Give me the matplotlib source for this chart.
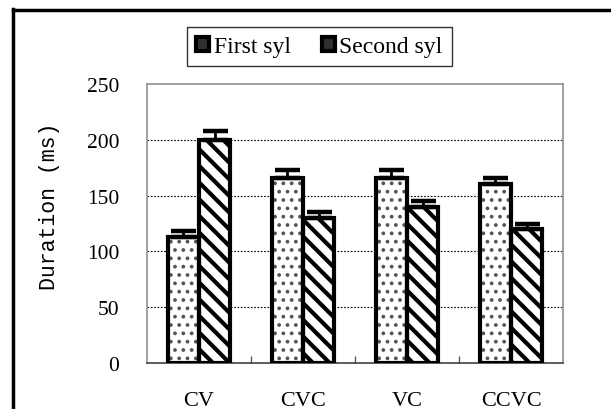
import matplotlib
matplotlib.use("Agg")
import matplotlib.pyplot as plt
from matplotlib.patches import Rectangle
from matplotlib.lines import Line2D
import numpy as np

categories = ["CV", "CVC", "VC", "CCVC"]
series_names = ["First syl", "Second syl"]
first_syl = [113, 166, 166, 160]
second_syl = [200, 130, 140, 120]
first_err = [5, 7, 7, 6]
second_err = [7.5, 5, 5, 5]
yticks = [0, 50, 100, 150, 200, 250]

fig = plt.figure(figsize=(6.11, 4.10), dpi=100)
ax = fig.add_axes([147/611, 1-364/410, (563-147)/611, (364-85)/410])

x = np.arange(len(categories))
w = 0.3
serif = "Liberation Serif"

def draw_series(xpos, vals, errs, hatch, hcolor):
    ax.bar(xpos, vals, w, color="white", hatch=hatch, edgecolor=hcolor, linewidth=0, zorder=2)
    ax.bar(xpos, vals, w, fill=False, edgecolor="black", linewidth=3.0, zorder=3)
    ax.errorbar(xpos, vals, yerr=[np.zeros(len(errs)), errs], fmt="none",
                ecolor="black", elinewidth=2.0, capsize=9, capthick=3.2, zorder=4)

plt.rcParams['hatch.linewidth'] = 1.5
draw_series(x - w/2, first_syl, first_err, "..", "#555555")
plt.rcParams['hatch.linewidth'] = 3.0
draw_series(x + w/2, second_syl, second_err, "\\\\", "black")

ax.set_ylim(0, 250)
ax.set_xlim(-0.5, len(categories) - 0.5)
ax.set_yticks(yticks)
ax.set_yticklabels([str(t) for t in yticks], fontfamily=serif, fontsize=15.5)
ax.set_xticks(x)
ax.set_xticklabels(categories, fontfamily=serif, fontsize=16)
ax.tick_params(axis="x", which="major", length=0, pad=20)
ax.tick_params(axis="y", which="major", length=0, pad=20)
ax.set_xticks(np.arange(0.5, len(categories) - 0.5, 1), minor=True)
ax.tick_params(axis="x", which="minor", direction="in", length=5, width=1, color="#555555")

for v in [50, 100, 150, 200]:
    ax.axhline(v, color="black", linewidth=0.8, linestyle=(0, (1.5, 1.5)), zorder=1)

for s in ax.spines.values():
    s.set_color("#909090")
    s.set_linewidth(1.2)
ax.spines["bottom"].set_color("#404040")

fig.text(50/611, 1-206/410, "Duration (ms)", rotation=90, ha="center", va="center",
         fontfamily="Liberation Mono", fontsize=15.5)

fig.add_artist(Line2D([13/611, 13/611], [0, 1-10/410], color="black", linewidth=2.5,
                      transform=fig.transFigure))
fig.add_artist(Line2D([13/611, 1], [1-10.5/410, 1-10.5/410], color="black", linewidth=2.5,
                      transform=fig.transFigure))

handles = [Rectangle((0, 0), 1, 1, facecolor="#303030", edgecolor="black", linewidth=3),
           Rectangle((0, 0), 1, 1, facecolor="#303030", edgecolor="black", linewidth=3)]
leg = fig.legend(handles, series_names, loc="center", bbox_to_anchor=(319.5/611, 1-47.5/410),
                 ncol=2, frameon=True, fancybox=False, edgecolor="black",
                 prop={"family": serif, "size": 17}, handlelength=0.55, handleheight=0.55,
                 handletextpad=0.2, columnspacing=1.3, borderpad=0.4, borderaxespad=0)
leg.get_frame().set_linewidth(1.0)

fig.savefig("out.png", dpi=100)
